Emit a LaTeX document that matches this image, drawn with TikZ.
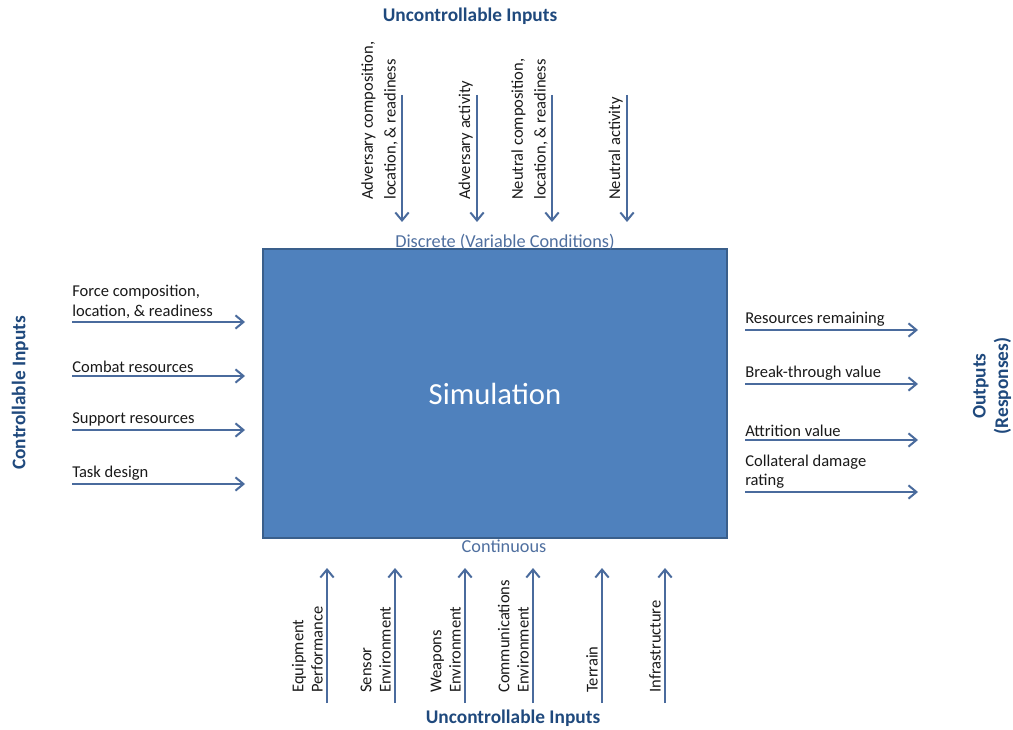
\documentclass[tikz,border=0pt]{standalone}
\usepackage{fontspec}
\setmainfont{Carlito}
\usepackage{tikz}
\usetikzlibrary{arrows.meta,positioning}

\definecolor{simfill}{HTML}{4F81BD}
\definecolor{simdraw}{HTML}{3A5F8B}
\definecolor{flowblue}{HTML}{4A6B9D}
\definecolor{headblue}{HTML}{1F497D}
\definecolor{subblue}{HTML}{4F6F9F}

\tikzset{
  flow/.style={draw=flowblue, line width=1.5pt, -{Straight Barb[length=6pt,width=10pt]}},
  lbl/.style={font=\fontsize{12.4}{14.5}\selectfont, inner sep=0pt, align=left, text=black!90},
  head/.style={font=\fontsize{14.5}{17}\selectfont\bfseries, text=headblue, inner sep=0pt, align=center},
  sub/.style={font=\fontsize{13.7}{16}\selectfont, text=subblue, inner sep=0pt}
}

\begin{document}
\begin{tikzpicture}[x=0.75pt, y=-0.75pt]
  \useasboundingbox (0,0) rectangle (1013,730);

  % The simulation box
  \node[draw=simdraw, line width=1.5pt, fill=simfill, text=white,
        minimum width=348pt, minimum height=216.75pt,
        font=\fontsize{23}{27}\selectfont] (sim) at (495,393.5) {Simulation};

  \node[sub] (discrete) at (505,242) {Discrete (Variable Conditions)};
  \node[sub] (cont) at (504,546) {Continuous};

  % Controllable inputs (left)
  \node[head, rotate=90] (ctrl) at (20,393) {Controllable Inputs};
  \foreach \y/\txt [count=\i] in {322/{Force composition,\\location, \& readiness},
      376/{Combat resources}, 430/{Support resources}, 484/{Task design}} {
    \coordinate (L\i a) at (72,\y);
    \coordinate (L\i b) at (245,\y);
    \draw[flow] (L\i a) -- (L\i b);
    \node[lbl, anchor=south west] (ltxt\i) at ([yshift=2.5pt]L\i a) {\txt};
  }

  % Outputs (right)
  \node[head, rotate=90] (outs) at (992,386) {Outputs\\(Responses)};
  \foreach \y/\txt [count=\i] in {330/{Resources remaining}, 384/{Break-through value},
      440/{Attrition value}, 492/{Collateral damage\\rating}} {
    \coordinate (R\i a) at (745,\y);
    \coordinate (R\i b) at (918,\y);
    \draw[flow] (R\i a) -- (R\i b);
    \node[lbl, anchor=south west] (rtxt\i) at ([yshift=2.5pt]R\i a) {\txt};
  }

  % Uncontrollable inputs (top, discrete)
  \node[head] (utop) at (470,16) {Uncontrollable Inputs};
  \foreach \x/\txt [count=\i] in {402/{Adversary composition,\\location, \& readiness},
      477/{Adversary activity}, 552/{Neutral composition,\\location, \& readiness},
      627/{Neutral activity}} {
    \coordinate (T\i a) at (\x,95);
    \coordinate (T\i b) at (\x,222);
    \draw[flow] (T\i a) -- (T\i b);
    \node[lbl, rotate=90, anchor=south west, font=\fontsize{12.4}{17}\selectfont]
      (ttxt\i) at ([xshift=-3pt]\x,200) {\txt};
  }

  % Uncontrollable inputs (bottom, continuous)
  \node[head] (ubot) at (513,718) {Uncontrollable Inputs};
  \foreach \x/\txt [count=\i] in {327/{Equipment\\Performance}, 395/{Sensor\\Environment},
      465/{Weapons\\Environment}, 533/{Communications\\Environment},
      602/{Terrain}, 665/{Infrastructure}} {
    \coordinate (B\i a) at (\x,703);
    \coordinate (B\i b) at (\x,568);
    \draw[flow] (B\i a) -- (B\i b);
    \node[lbl, rotate=90, anchor=south west] (btxt\i) at ([xshift=-3pt]\x,693) {\txt};
  }
\end{tikzpicture}
\end{document}
